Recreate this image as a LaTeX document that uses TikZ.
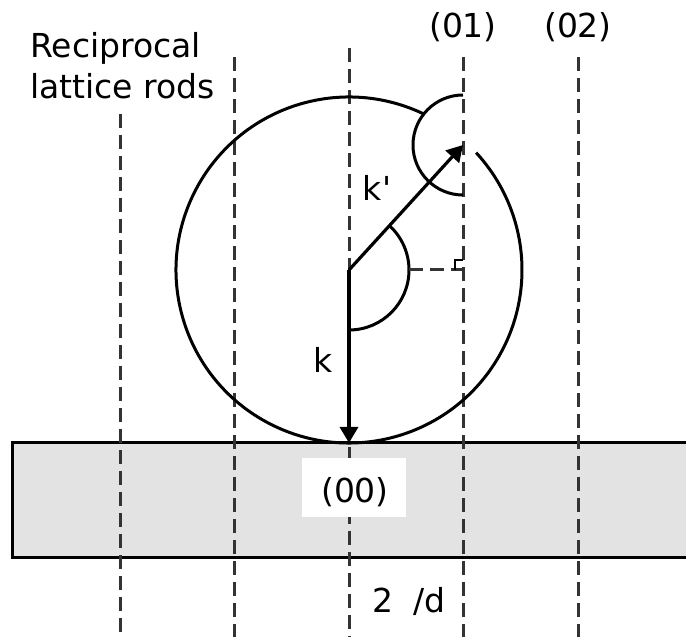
\documentclass[tikz,border=0pt]{standalone}
\usepackage{fontspec}
\setmainfont{DejaVu Sans}[Ligatures=TeXOff]
\usepackage{tikz}
\usetikzlibrary{arrows.meta,positioning,calc}

\begin{document}
\begin{tikzpicture}[
  x=0.5pt, y=0.5pt,
  font=\fontsize{16.5}{20.5}\selectfont,
  rod/.style={draw=black!80, line width=1.5pt, dash pattern=on 7pt off 3.5pt},
  curve/.style={draw=black, line width=1.5pt},
  vec/.style={draw=black, line width=1.6pt, -{Triangle[length=8pt,width=9pt]}},
  label/.style={inner sep=0pt, anchor=base}
]
  \useasboundingbox (0,0) rectangle (686,637);

  \coordinate (C) at (349,367);
  \coordinate (O) at (349,194);
  \coordinate (T) at (463,492);

  \fill[black!11] (12,79) rectangle (690,194);
  \draw[line width=1.5pt] (690,194) -- (12,194) -- (12,79) -- (690,79);

  \draw[rod] (120,523) -- (120,0);
  \draw[rod] (234,580) -- (234,0);
  \draw[rod] (349,589) -- (349,0);
  \draw[rod] (463,580) -- (463,0);
  \draw[rod] (578,580) -- (578,0);

  \node[fill=white, minimum width=52pt, minimum height=29.5pt, inner sep=0pt] (zero) at (354,149) {};
  \node[label] (zerolbl) at (355,134) {(00)};

  \draw[curve] (C) ++(64.2:173) arc[start angle=64.2, end angle=402.7, radius=173];
  \draw[curve] (T) ++(0,50) arc[start angle=90, end angle=270, radius=50];
  \draw[curve] (C) ++(0,-60) arc[start angle=-90, end angle=47.6, radius=60];

  \draw[rod] (409,367) -- (463,367);
  \draw[line width=1pt] (455,367) -- (455,377) -- (463,377);

  \draw[vec] (C) -- (T);
  \draw[vec] (C) -- (O);

  \node[label] (kp) at (377,436) {k'};
  \node[label] (k) at (323,264) {k};
  \node[label] (r01) at (463,599) {(01)};
  \node[label] (r02) at (578,599) {(02)};
  \node[label, anchor=base west, align=left] (rods) at (30,538) {Reciprocal\\lattice rods};
  \node[label] (dist) at (409,24) {2\hspace{10pt}/d};
\end{tikzpicture}
\end{document}
